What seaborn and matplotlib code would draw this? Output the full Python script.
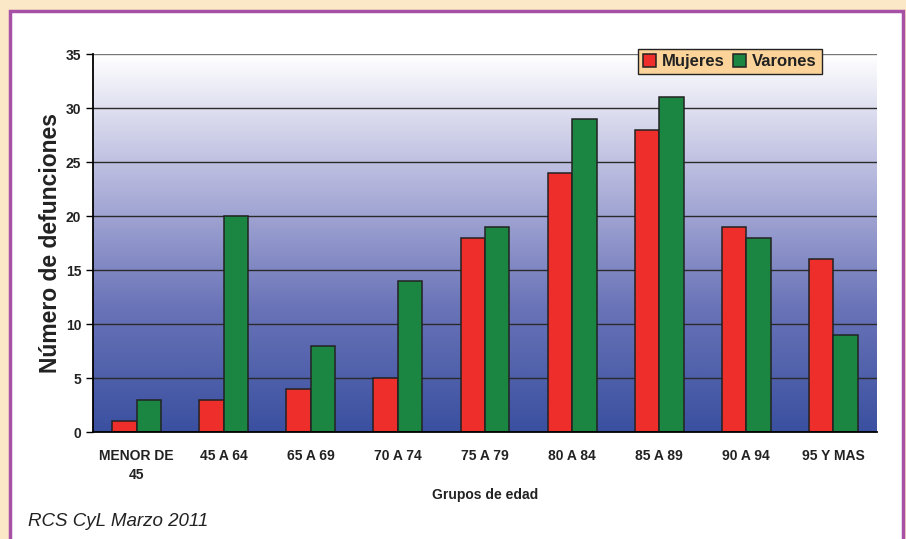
import numpy as np
import pandas as pd
import matplotlib
matplotlib.use("Agg")
import matplotlib.pyplot as plt
import seaborn as sns
from matplotlib.colors import LinearSegmentedColormap
from matplotlib.patches import Rectangle

grupos = ["MENOR DE\n45", "45 A 64", "65 A 69", "70 A 74", "75 A 79",
          "80 A 84", "85 A 89", "90 A 94", "95 Y MAS"]
mujeres = [1, 3, 4, 5, 18, 24, 28, 19, 16]
varones = [3, 20, 8, 14, 19, 29, 31, 18, 9]

df = pd.DataFrame({
    "grupo": grupos * 2,
    "sexo": ["Mujeres"] * len(grupos) + ["Varones"] * len(grupos),
    "n": mujeres + varones,
})

sns.set_style("white")
plt.rcParams["font.family"] = ["Liberation Sans", "DejaVu Sans"]

fig = plt.figure(figsize=(9.06, 5.39), dpi=100)
fig.patch.set_facecolor("#fbe8c6")
# white panel with purple frame
fig.patches.append(Rectangle((10 / 906, -0.01), 893 / 906, 1 - 11 / 539 + 0.01,
                             transform=fig.transFigure, facecolor="white",
                             edgecolor="#a651a6", linewidth=2.5, zorder=-10))

ax = fig.add_axes([93 / 906, 1 - 432 / 539, (877 - 93) / 906, (432 - 54) / 539])

# gradient background, white at top to dark blue at bottom
cmap = LinearSegmentedColormap.from_list("bg", ["#ffffff", "#b4b6dc", "#6a74b8", "#3a50a0"])
grad = np.linspace(0, 1, 256).reshape(-1, 1)
ax.imshow(grad, aspect="auto", cmap=cmap, extent=(-0.5, 8.5, 0, 35), origin="upper", zorder=0)

for y in range(5, 35, 5):
    ax.axhline(y, color="#2a2a2a", lw=1.0, zorder=1)
ax.axhline(35, color="#777777", lw=1.0, zorder=1)

sns.barplot(data=df, x="grupo", y="n", hue="sexo", order=grupos,
            palette={"Mujeres": "#ee2e2b", "Varones": "#1b8542"},
            width=0.56, edgecolor="#222222", linewidth=1.1, saturation=1,
            ax=ax, zorder=2)

ax.set_xlim(-0.5, 8.5)
ax.set_ylim(0, 35)
ax.set_yticks(range(0, 36, 5))
ax.set_yticklabels([str(v) for v in range(0, 36, 5)], fontsize=10, fontweight="bold", color="#222222")
ax.set_xticks(range(len(grupos)))
ax.set_xticklabels(grupos, fontsize=10, fontweight="bold", color="#222222", linespacing=1.5)
ax.set_xticks(np.arange(-0.5, 9, 1), minor=True)
ax.tick_params(axis="x", which="major", length=0, pad=12)
ax.tick_params(axis="x", which="minor", length=5, direction="out", color="black", width=1)
ax.tick_params(axis="y", length=5, direction="out", color="black", width=1, left=True)

for s in ["top", "right"]:
    ax.spines[s].set_visible(False)
ax.spines["left"].set_color("black")
ax.spines["bottom"].set_color("black")
ax.spines["left"].set_linewidth(1.3)
ax.spines["bottom"].set_linewidth(1.3)

ax.set_xlabel("Grupos de edad", fontsize=10, fontweight="bold", color="#222222", labelpad=4)
ax.set_ylabel("Número de defunciones", fontsize=16.5, fontweight="bold", color="#222222", labelpad=3)

leg = ax.legend(loc="upper right", bbox_to_anchor=(0.94, 1.035), ncol=2, frameon=True,
                fancybox=False, handlelength=0.8, handleheight=0.8, handletextpad=0.35,
                columnspacing=0.5, borderpad=0.3,
                prop={"weight": "bold", "size": 12})
leg.get_frame().set_facecolor("#fcd49a")
leg.get_frame().set_edgecolor("#222222")
leg.get_frame().set_alpha(1)
for t in leg.get_texts():
    t.set_color("#222222")

fig.text(28 / 906, 1 - 522 / 539, "RCS CyL Marzo 2011", fontsize=13.5, style="italic",
         color="#222222", va="center", ha="left")

fig.savefig("out.png", dpi=100, facecolor=fig.get_facecolor())
